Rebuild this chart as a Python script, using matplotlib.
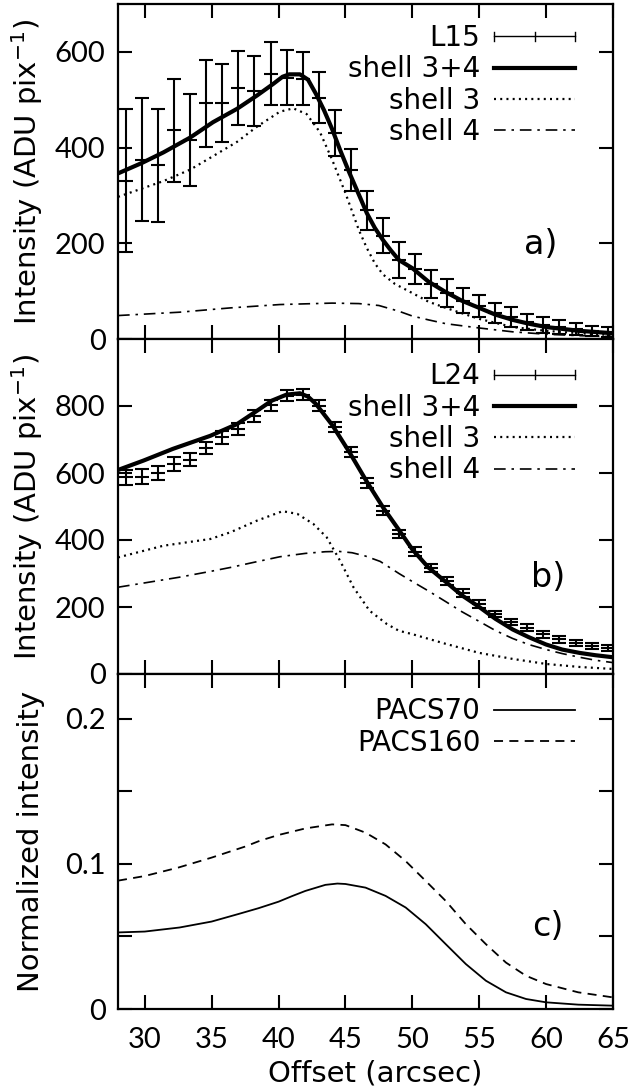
import matplotlib
matplotlib.use("Agg")
import matplotlib.pyplot as plt
from matplotlib.lines import Line2D
from matplotlib.legend_handler import HandlerBase

plt.rcParams['font.family'] = ['Lato', 'DejaVu Sans']
plt.rcParams['mathtext.fontset'] = 'dejavusans'
FS = 21
LBL = dict(family='DejaVu Sans', size=21)
PNL = dict(family='DejaVu Sans', size=24)

# ---------------- data ----------------
offsets = [28.6, 29.8, 31.0, 32.2, 33.4, 34.6, 35.8, 37.0, 38.2, 39.4, 40.6,
           41.8, 43.0, 44.2, 45.4, 46.6, 47.8, 49.0, 50.2, 51.4, 52.6, 53.8,
           55.0, 56.2, 57.4, 58.6, 59.8, 61.0, 62.2, 63.4, 64.6]

l15 = [331, 375, 363, 436, 415, 493, 493, 524, 519, 554, 546, 544, 504, 431,
       354, 269, 216, 165, 146, 115, 96, 80, 69, 55, 46, 36, 30, 25, 21, 17, 15]
l15_err = [150, 129, 118, 108, 96, 91, 82, 77, 73, 66, 58, 56, 53, 48, 44, 41,
           37, 37, 32, 30, 29, 26, 23, 21, 20, 17, 17, 15, 13, 10, 10]

l24 = [587, 589, 599, 627, 640, 675, 706, 731, 770, 802, 831, 834, 801, 738,
       662, 570, 488, 418, 365, 317, 279, 242, 209, 179, 155, 138, 118, 104,
       92, 84, 77]
l24_err = [22, 22, 21, 20, 20, 19, 18, 18, 17, 17, 16, 16, 16, 15, 15, 14, 14,
           13, 13, 12, 12, 11, 11, 10, 10, 10, 10, 10, 9, 9, 9]

# panel a models
a_tot_x = [28.0, 29.8, 31.4, 33.4, 35.1, 36.9, 38.4, 39.6, 40.3, 40.8, 41.6,
           42.2, 42.8, 43.4, 44.0, 44.6, 45.3, 46.0, 46.6, 47.2, 47.8, 48.4,
           49.0, 50.0, 51.2, 52.5, 53.7, 55.0, 56.2, 57.5, 58.7, 60.0, 62.5, 65.0]
a_tot_y = [346, 368, 390, 421, 453, 481, 509, 533, 548, 553, 553,
           542, 512, 478, 439, 395, 347, 302, 263, 232, 207, 185,
           165, 148, 120, 98, 80, 65, 51, 40, 32, 25, 17, 12]
a_s3_x = [28.0, 31.4, 33.4, 35.1, 36.9, 38.4, 40.1, 41.1, 42.1, 43.1, 44.0,
          45.0, 46.0, 46.6, 47.2, 47.8, 48.7, 50.0, 51.2, 52.5, 55.0, 57.5,
          60.0, 62.5, 65.0]
a_s3_y = [297, 330, 354, 382, 412, 444, 475, 482, 470, 432, 375,
          305, 228, 190, 158, 135, 115, 96, 78, 65, 42, 25,
          17, 12, 8]
a_s4_x = [28.0, 32.6, 36.4, 40.1, 44.0, 46.0, 47.5, 49.0, 50.0, 51.2, 52.5,
          55.0, 57.5, 60.0, 62.5, 65.0]
a_s4_y = [49, 56, 65, 72, 75, 74, 70, 58, 48, 40, 32,
          23, 15, 10, 7, 5]

# panel b models
b_tot_x = [28.0, 29.9, 32.1, 34.9, 36.9, 38.4, 39.5, 40.6, 41.6, 42.2, 42.8,
           44.0, 45.3, 46.6, 47.8, 49.0, 50.0, 51.2, 52.5, 53.7, 55.0, 56.2,
           57.5, 58.7, 60.0, 61.2, 62.5, 63.7, 65.0]
b_tot_y = [609, 637, 672, 711, 746, 786, 816, 834, 838, 828, 806,
           744, 662, 574, 498, 430, 372, 318, 275, 235, 200, 165,
           133, 110, 88, 73, 63, 56, 50]
b_s3_x = [28.0, 31.4, 34.9, 36.4, 38.4, 40.3, 41.4, 42.6, 43.6, 44.6, 45.6,
          46.8, 48.1, 49.0, 50.0, 52.5, 55.0, 57.5, 60.0, 62.5, 65.0]
b_s3_y = [348, 383, 403, 423, 458, 486, 478, 448, 408, 338, 259,
          189, 149, 129, 119, 90, 63, 45, 30, 21, 15]
b_s4_x = [28.0, 30.0, 32.6, 35.0, 36.4, 38.0, 40.1, 42.0, 43.5, 44.5, 45.5,
          46.5, 47.6, 49.0, 50.0, 51.2, 52.5, 53.7, 55.0, 56.2, 57.5, 58.7,
          60.0, 61.2, 62.5, 63.7, 65.0]
b_s4_y = [259, 272, 289, 307, 318, 332, 350, 360, 365, 366, 362,
          352, 336, 300, 276, 248, 216, 186, 157, 130, 106, 88,
          73, 61, 50, 41, 34]

# panel c
p70_x = [28.0, 30.0, 32.6, 35.0, 37.0, 38.5, 40.0, 41.0, 42.0, 43.5, 44.4,
         45.0, 46.5, 48.0, 49.5, 51.0, 52.5, 54.0, 55.5, 57.0, 58.5, 60.0,
         62.4, 65.0]
p70_y = [0.0528, 0.0534, 0.0562, 0.0603, 0.0655, 0.0695, 0.0740, 0.0778,
         0.0814, 0.0856, 0.0865, 0.0862, 0.0837, 0.0780, 0.0700, 0.0585,
         0.0447, 0.0310, 0.0195, 0.0115, 0.0069, 0.0046, 0.0030, 0.0023]
p160_x = [28.0, 30.0, 32.5, 35.0, 37.5, 38.6, 40.0, 42.0, 44.0, 45.0, 46.5,
          48.0, 49.5, 51.0, 52.5, 54.0, 55.5, 57.0, 58.5, 60.0, 62.4, 65.0]
p160_y = [0.0885, 0.0917, 0.0975, 0.1044, 0.1120, 0.1160, 0.1200, 0.1245,
          0.1273, 0.1268, 0.1216, 0.1135, 0.1020, 0.0883, 0.0745, 0.0585,
          0.0447, 0.0320, 0.0229, 0.0172, 0.0115, 0.0080]

xticks = [30, 35, 40, 45, 50, 55, 60, 65]


class HErrHandler(HandlerBase):
    def create_artists(self, legend, orig_handle, xdescent, ydescent,
                       width, height, fontsize, trans):
        y = height / 2 - ydescent
        x0, x1 = -xdescent, width - xdescent
        xm = (x0 + x1) / 2
        h = 0.17 * fontsize
        kw = dict(color='black', lw=1.0, transform=trans)
        return [Line2D([x0, x1], [y, y], **kw),
                Line2D([x0, x0], [y - h, y + h], **kw),
                Line2D([x1, x1], [y - h, y + h], **kw),
                Line2D([xm, xm], [y - h, y + h], **kw)]


fig = plt.figure(figsize=(6.28, 10.91), dpi=100)
L, W = 118 / 628, 495 / 628
H = 335 / 1091
bottoms = [1 - 339 / 1091, 1 - 674 / 1091, 1 - 1009 / 1091]
axes = [fig.add_axes([L, b, W, H]) for b in bottoms]

for ax in axes:
    ax.set_xlim(28, 65)
    ax.set_xticks(xticks)
    ax.tick_params(which='both', direction='in', length=10, width=1.5,
                   top=True, right=True, labelsize=FS, pad=9)
    ax.tick_params(axis='x', pad=13)
    for s in ax.spines.values():
        s.set_linewidth(1.6)

ebkw = dict(fmt='_', color='black', ms=9.4, mew=1.5, elinewidth=1.5,
            capsize=4.7, capthick=1.5)
lw_thick = 3.0
s3kw = dict(color='black', lw=1.6, linestyle=(0, (0.9, 1.9)))
s4kw = dict(color='black', lw=1.2, linestyle=(0, (7, 3.5, 1.5, 3.5)))

# ---- panel a ----
ax = axes[0]
ax.errorbar(offsets, l15, yerr=l15_err, **ebkw)
ax.plot(a_tot_x, a_tot_y, color='black', lw=lw_thick)
ax.plot(a_s3_x, a_s3_y, **s3kw)
ax.plot(a_s4_x, a_s4_y, **s4kw)
ax.set_ylim(0, 700)
ax.set_yticks([0, 200, 400, 600])
ax.tick_params(labelbottom=False)
ax.set_ylabel('Intensity (ADU pix$^{-1}$)', **LBL)
ax.yaxis.set_label_coords(-0.147, 0.5)
ax.text(0.853, 0.281, 'a)', transform=ax.transAxes, ha='center',
        va='center', **PNL)

# ---- panel b ----
ax = axes[1]
ax.errorbar(offsets, l24, yerr=l24_err, **ebkw)
ax.plot(b_tot_x, b_tot_y, color='black', lw=lw_thick)
ax.plot(b_s3_x, b_s3_y, **s3kw)
ax.plot(b_s4_x, b_s4_y, **s4kw)
ax.set_ylim(0, 1000)
ax.set_yticks([0, 200, 400, 600, 800])
ax.tick_params(labelbottom=False)
ax.set_ylabel('Intensity (ADU pix$^{-1}$)', **LBL)
ax.yaxis.set_label_coords(-0.147, 0.5)
ax.text(0.869, 0.287, 'b)', transform=ax.transAxes, ha='center',
        va='center', **PNL)

# ---- panel c ----
ax = axes[2]
ax.plot(p70_x, p70_y, color='black', lw=1.3)
ax.plot(p160_x, p160_y, color='black', lw=1.3, linestyle=(0, (5, 3.5)))
ax.set_ylim(0, 0.231)
ax.set_yticks([0, 0.1, 0.2])
ax.set_yticklabels(['0', '0.1', '0.2'])
ax.set_yticks([0.05, 0.15], minor=True)
ax.set_ylabel('Normalized intensity', **LBL)
ax.yaxis.set_label_coords(-0.147, 0.5)
ax.set_xlabel('Offset (arcsec)', **LBL)
ax.xaxis.set_label_coords(0.52, -0.152)
ax.text(0.869, 0.245, 'c)', transform=ax.transAxes, ha='center',
        va='center', **PNL)

# ---- legends ----
legkw = dict(loc='upper right', frameon=False, markerfirst=False,
             prop={'family': 'DejaVu Sans', 'size': 20},
             handlelength=2.9, handletextpad=0.5,
             labelspacing=0.12, borderpad=0, borderaxespad=0)

for ax, name, anchor in [(axes[0], 'L15', (0.923, 0.94)),
                         (axes[1], 'L24', (0.923, 0.93))]:
    proxy = Line2D([], [], color='black')
    thick = Line2D([], [], color='black', lw=lw_thick)
    d3 = Line2D([], [], **s3kw)
    d4 = Line2D([], [], **s4kw)
    ax.legend([proxy, thick, d3, d4], [name, 'shell 3+4', 'shell 3', 'shell 4'],
              handler_map={proxy: HErrHandler()}, bbox_to_anchor=anchor,
              **legkw)

h70 = Line2D([], [], color='black', lw=1.3)
h160 = Line2D([], [], color='black', lw=1.3, linestyle=(0, (5, 3.5)))
axes[2].legend([h70, h160], ['PACS70', 'PACS160'],
               bbox_to_anchor=(0.923, 0.93), **legkw)

fig.savefig('out.png', dpi=100)
